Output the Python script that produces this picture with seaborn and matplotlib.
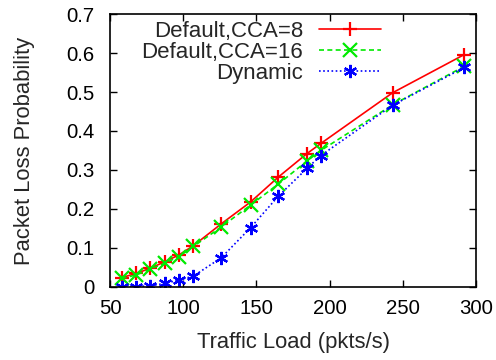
import matplotlib
matplotlib.use("Agg")
import matplotlib.pyplot as plt
import seaborn as sns
import pandas as pd

# Offered traffic load (pkts/s)
load = [58, 68, 77.5, 87.5, 97, 107, 126, 146, 165, 184.5, 194, 243, 292]

# Packet loss probability per scheme
cca8 = [0.024, 0.035, 0.048, 0.065, 0.082, 0.106, 0.162, 0.218, 0.282, 0.342, 0.368, 0.498, 0.596]
cca16 = [0.022, 0.031, 0.046, 0.061, 0.078, 0.104, 0.154, 0.210, 0.264, 0.323, 0.350, 0.467, 0.566]
dynamic = [0.001, 0.001, 0.003, 0.009, 0.018, 0.028, 0.075, 0.152, 0.233, 0.304, 0.337, 0.466, 0.563]

labels = ["Default,CCA=8", "Default,CCA=16", "Dynamic"]
colors = ["#ff0000", "#00ea00", "#0000ff"]
markers = ["+", "x", (6, 2, 0)]
dashes = ["-", (0, (3, 2)), (0, (1, 1.5))]

sns.set_style("ticks")
plt.rcParams["font.family"] = ["Liberation Sans", "DejaVu Sans"]

fig = plt.figure(figsize=(4.96, 3.6), dpi=100)
ax = fig.add_axes([0.2218, 0.2028, 0.7379, 0.7583])

for lab, ys, c, m, ls in zip(labels, [cca8, cca16, dynamic], colors, markers, dashes):
    df = pd.DataFrame({"load": load, "loss": ys})
    sns.lineplot(data=df, x="load", y="loss", ax=ax, color=c, marker=m,
                 markersize=9.5, markeredgewidth=1.6, markeredgecolor=c,
                 linewidth=1.2, label=lab)
    ax.lines[-1].set_linestyle(ls)

ax.set_xlim(50, 300)
ax.set_ylim(0, 0.7)
ax.set_xticks([50, 100, 150, 200, 250, 300])
ax.set_yticks([0, 0.1, 0.2, 0.3, 0.4, 0.5, 0.6, 0.7])
ax.set_yticklabels(["0", "0.1", "0.2", "0.3", "0.4", "0.5", "0.6", "0.7"])
ax.tick_params(direction="in", top=True, right=True, length=5, width=1,
               labelsize=14.7, colors="black")
ax.tick_params(axis="x", pad=9)
ax.tick_params(axis="y", pad=11)
for s in ax.spines.values():
    s.set_linewidth(1.2)
    s.set_color("black")

ax.set_xlabel("Traffic Load (pkts/s)", fontsize=15.8, labelpad=10)
ax.set_ylabel("Packet Loss Probability", fontsize=15.8, labelpad=23)

# key: labels right-aligned, sample line to the right of each label
ax.legend(loc="upper right", bbox_to_anchor=(0.746, 0.982), frameon=False,
          markerfirst=False, fontsize=16, handlelength=2.8,
          labelspacing=0.0, borderpad=0.1, borderaxespad=0.0,
          handletextpad=0.7)

fig.savefig("out.png", dpi=100)
